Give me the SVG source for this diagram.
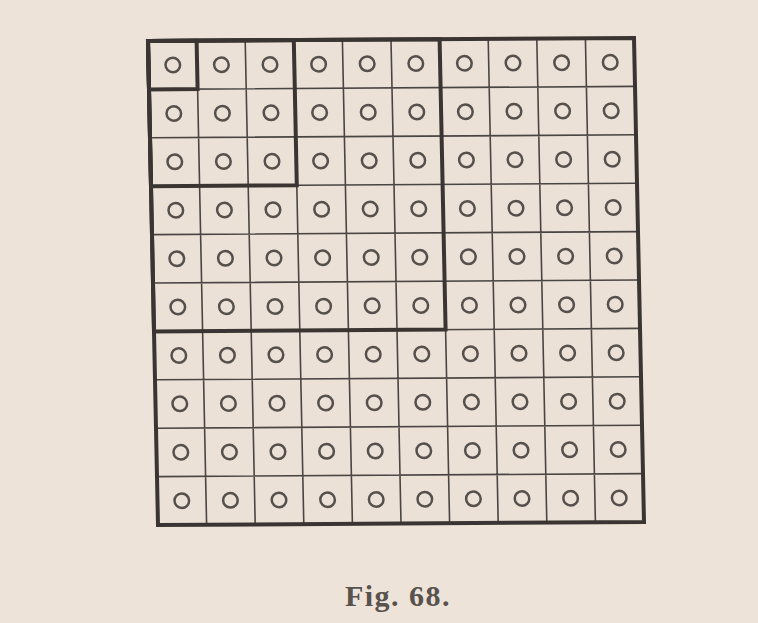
<svg xmlns="http://www.w3.org/2000/svg" width="758" height="623" viewBox="0 0 758 623">
<style>
.thin{stroke:#4a4542;stroke-width:1.6;fill:none;vector-effect:non-scaling-stroke}
.thick{stroke:#3a3532;stroke-width:4;fill:none;stroke-linejoin:miter;stroke-linecap:square;vector-effect:non-scaling-stroke}
.c{fill:none;stroke:#55504c;stroke-width:2.5;vector-effect:non-scaling-stroke}
.cap{font-family:"Liberation Serif","DejaVu Serif",serif;font-size:30px;font-weight:bold;fill:#57524d;letter-spacing:1.5px}
</style>
<rect width="758" height="623" fill="#eee3d8"/>
<g id="figure" transform="matrix(48.6,-0.3,1.0,48.4,148,41)">
<rect x="0" y="0" width="10" height="10" fill="#ebe1d7"/>
<g id="grid">
<path class="thin" d="M1 0V10M2 0V10M3 0V10M4 0V10M5 0V10M6 0V10M7 0V10M8 0V10M9 0V10M0 1H10M0 2H10M0 3H10M0 4H10M0 5H10M0 6H10M0 7H10M0 8H10M0 9H10"/>
</g>
<g id="squares">
<rect class="thick" x="0" y="0" width="1" height="1"/>
<rect class="thick" x="0" y="0" width="3" height="3"/>
<rect class="thick" x="0" y="0" width="6" height="6"/>
<rect class="thick" x="0" y="0" width="10" height="10"/>
</g>
<g id="dots">
<g transform="translate(0,0.5)"><circle class="c" cx="0.5" r="0.15"/><circle class="c" cx="1.5" r="0.15"/><circle class="c" cx="2.5" r="0.15"/><circle class="c" cx="3.5" r="0.15"/><circle class="c" cx="4.5" r="0.15"/><circle class="c" cx="5.5" r="0.15"/><circle class="c" cx="6.5" r="0.15"/><circle class="c" cx="7.5" r="0.15"/><circle class="c" cx="8.5" r="0.15"/><circle class="c" cx="9.5" r="0.15"/></g>
<g transform="translate(0,1.5)"><circle class="c" cx="0.5" r="0.15"/><circle class="c" cx="1.5" r="0.15"/><circle class="c" cx="2.5" r="0.15"/><circle class="c" cx="3.5" r="0.15"/><circle class="c" cx="4.5" r="0.15"/><circle class="c" cx="5.5" r="0.15"/><circle class="c" cx="6.5" r="0.15"/><circle class="c" cx="7.5" r="0.15"/><circle class="c" cx="8.5" r="0.15"/><circle class="c" cx="9.5" r="0.15"/></g>
<g transform="translate(0,2.5)"><circle class="c" cx="0.5" r="0.15"/><circle class="c" cx="1.5" r="0.15"/><circle class="c" cx="2.5" r="0.15"/><circle class="c" cx="3.5" r="0.15"/><circle class="c" cx="4.5" r="0.15"/><circle class="c" cx="5.5" r="0.15"/><circle class="c" cx="6.5" r="0.15"/><circle class="c" cx="7.5" r="0.15"/><circle class="c" cx="8.5" r="0.15"/><circle class="c" cx="9.5" r="0.15"/></g>
<g transform="translate(0,3.5)"><circle class="c" cx="0.5" r="0.15"/><circle class="c" cx="1.5" r="0.15"/><circle class="c" cx="2.5" r="0.15"/><circle class="c" cx="3.5" r="0.15"/><circle class="c" cx="4.5" r="0.15"/><circle class="c" cx="5.5" r="0.15"/><circle class="c" cx="6.5" r="0.15"/><circle class="c" cx="7.5" r="0.15"/><circle class="c" cx="8.5" r="0.15"/><circle class="c" cx="9.5" r="0.15"/></g>
<g transform="translate(0,4.5)"><circle class="c" cx="0.5" r="0.15"/><circle class="c" cx="1.5" r="0.15"/><circle class="c" cx="2.5" r="0.15"/><circle class="c" cx="3.5" r="0.15"/><circle class="c" cx="4.5" r="0.15"/><circle class="c" cx="5.5" r="0.15"/><circle class="c" cx="6.5" r="0.15"/><circle class="c" cx="7.5" r="0.15"/><circle class="c" cx="8.5" r="0.15"/><circle class="c" cx="9.5" r="0.15"/></g>
<g transform="translate(0,5.5)"><circle class="c" cx="0.5" r="0.15"/><circle class="c" cx="1.5" r="0.15"/><circle class="c" cx="2.5" r="0.15"/><circle class="c" cx="3.5" r="0.15"/><circle class="c" cx="4.5" r="0.15"/><circle class="c" cx="5.5" r="0.15"/><circle class="c" cx="6.5" r="0.15"/><circle class="c" cx="7.5" r="0.15"/><circle class="c" cx="8.5" r="0.15"/><circle class="c" cx="9.5" r="0.15"/></g>
<g transform="translate(0,6.5)"><circle class="c" cx="0.5" r="0.15"/><circle class="c" cx="1.5" r="0.15"/><circle class="c" cx="2.5" r="0.15"/><circle class="c" cx="3.5" r="0.15"/><circle class="c" cx="4.5" r="0.15"/><circle class="c" cx="5.5" r="0.15"/><circle class="c" cx="6.5" r="0.15"/><circle class="c" cx="7.5" r="0.15"/><circle class="c" cx="8.5" r="0.15"/><circle class="c" cx="9.5" r="0.15"/></g>
<g transform="translate(0,7.5)"><circle class="c" cx="0.5" r="0.15"/><circle class="c" cx="1.5" r="0.15"/><circle class="c" cx="2.5" r="0.15"/><circle class="c" cx="3.5" r="0.15"/><circle class="c" cx="4.5" r="0.15"/><circle class="c" cx="5.5" r="0.15"/><circle class="c" cx="6.5" r="0.15"/><circle class="c" cx="7.5" r="0.15"/><circle class="c" cx="8.5" r="0.15"/><circle class="c" cx="9.5" r="0.15"/></g>
<g transform="translate(0,8.5)"><circle class="c" cx="0.5" r="0.15"/><circle class="c" cx="1.5" r="0.15"/><circle class="c" cx="2.5" r="0.15"/><circle class="c" cx="3.5" r="0.15"/><circle class="c" cx="4.5" r="0.15"/><circle class="c" cx="5.5" r="0.15"/><circle class="c" cx="6.5" r="0.15"/><circle class="c" cx="7.5" r="0.15"/><circle class="c" cx="8.5" r="0.15"/><circle class="c" cx="9.5" r="0.15"/></g>
<g transform="translate(0,9.5)"><circle class="c" cx="0.5" r="0.15"/><circle class="c" cx="1.5" r="0.15"/><circle class="c" cx="2.5" r="0.15"/><circle class="c" cx="3.5" r="0.15"/><circle class="c" cx="4.5" r="0.15"/><circle class="c" cx="5.5" r="0.15"/><circle class="c" cx="6.5" r="0.15"/><circle class="c" cx="7.5" r="0.15"/><circle class="c" cx="8.5" r="0.15"/><circle class="c" cx="9.5" r="0.15"/></g>
</g>
</g>
<text class="cap" x="398" y="606" text-anchor="middle">Fig. 68.</text>
</svg>
